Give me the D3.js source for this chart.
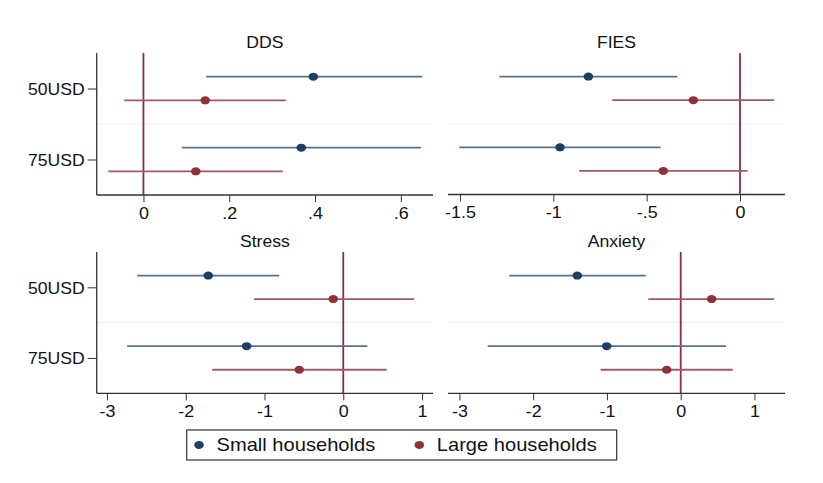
<!DOCTYPE html>
<html><head><meta charset="utf-8">
<script src="https://cdn.jsdelivr.net/npm/d3@7"></script>
<style>body{margin:0;background:#fff;} text{font-family:"Liberation Sans",Arial,sans-serif;fill:#111;}</style>
</head><body>
<svg id="c" width="823" height="483"></svg>
<script>
const panels = ["DDS","FIES","Stress","Anxiety"];
const treatments = ["50USD","75USD"];
const groups = ["Small households","Large households"];
// [treatment][group] = [estimate, lower, upper]
const ddsValues = [[[0.396,0.146,0.650],[0.144,-0.045,0.332]],[[0.368,0.089,0.647],[0.122,-0.082,0.325]]];
const fiesValues = [[[-0.812,-1.289,-0.336],[-0.250,-0.684,0.182]],[[-0.964,-1.504,-0.425],[-0.411,-0.862,0.041]]];
const stressValues = [[[-1.714,-2.616,-0.813],[-0.127,-1.134,0.898]],[[-1.227,-2.743,0.305],[-0.559,-1.664,0.551]]];
const anxietyValues = [[[-1.402,-2.324,-0.475],[0.420,-0.439,1.265]],[[-1.003,-2.617,0.614],[-0.190,-1.085,0.705]]];
const ddsTicks = [0,0.2,0.4,0.6];
const fiesTicks = [-1.5,-1,-0.5,0];
const stressTicks = [-3,-2,-1,0,1];
const anxietyTicks = [-3,-2,-1,0,1];
const tickLabel = v => { if (v===0) return "0"; let s = String(v); return s.replace(/^(-?)0\./,"$1."); };

const values = [ddsValues,fiesValues,stressValues,anxietyValues];
const ticks = [ddsTicks,fiesTicks,stressTicks,anxietyTicks];
const domains = [[-0.109,0.675],[-1.564,0.241],[-3.13,1.139],[-3.155,1.414]];
const boxes = [
  {l:96.7,r:433,t:53,b:195},
  {l:448,r:785,t:53,b:194.5},
  {l:96.7,r:433,t:252,b:393.3},
  {l:448,r:785,t:252,b:393.3}
];
const dotCol = ["#1f3e66","#8b3339"];
const ciCol = ["#57708b","#a05a61"];
const zeroCol = "#8e2c45";
const axisCol = "#333";
const SX = 1.1;

const svg = d3.select("#c");
svg.append("rect").attr("width",823).attr("height",483).attr("fill","#fff");

function stretchedText(g, x, y, txt, size, anchor, sx){
  return g.append("text").attr("transform",`translate(${x},${y}) scale(${sx},1)`)
    .attr("text-anchor",anchor).attr("font-size",size).text(txt);
}

panels.forEach((name,i)=>{
  const b = boxes[i];
  const g = svg.append("g");
  const x = d3.scaleLinear().domain(domains[i]).range([b.l,b.r]);
  const y = d3.scaleLinear().domain([0,6]).range([b.t,b.b]);
  // separator
  g.append("line").attr("x1",b.l).attr("x2",b.r).attr("y1",y(3)).attr("y2",y(3))
    .attr("stroke","#efefef").attr("stroke-width",1.2);
  // title
  stretchedText(g,(b.l+b.r)/2,b.t-5.5,name,16,"middle",SX);
  // zero line
  g.append("line").attr("x1",x(0)).attr("x2",x(0)).attr("y1",b.t).attr("y2",b.b)
    .attr("stroke",zeroCol).attr("stroke-width",1.8);
  // x axis
  const ax = g.append("g").attr("transform",`translate(0,${b.b})`)
    .call(d3.axisBottom(x).tickValues(ticks[i]).tickSize(7).tickSizeOuter(0).tickFormat(tickLabel));
  ax.select(".domain").attr("stroke",axisCol).attr("stroke-width",1.3).attr("d",`M${b.l},0H${b.r}`);
  ax.selectAll(".tick line").attr("stroke",axisCol).attr("stroke-width",1);
  ax.selectAll(".tick text").each(function(d){
    const t = d3.select(this);
    t.attr("y",null).attr("dy",null).attr("font-size",16).attr("fill","#111")
     .attr("transform",`translate(0,23.5) scale(1.12,1)`);
  });
  // y axis (left panels)
  if (i%2===0){
    const ya = d3.scaleOrdinal().domain(treatments).range([y(1.5),y(4.5)]);
    const ay = g.append("g").attr("transform",`translate(${b.l},0)`)
      .call(d3.axisLeft(ya).tickSize(9).tickSizeOuter(0));
    ay.select(".domain").attr("stroke",axisCol).attr("stroke-width",1.3).attr("d",`M0,${b.t}V${b.b}`);
    ay.selectAll(".tick line").attr("stroke",axisCol).attr("stroke-width",1);
    ay.selectAll(".tick text").attr("x",null).attr("dy",null).attr("font-size",16).attr("fill","#111")
      .attr("transform",`translate(-12,5.7) scale(1.1,1)`);
  }
  // CIs & points
  values[i].forEach((tr,ti)=>{
    tr.forEach((v,gi)=>{
      const yy = y(ti*3 + 1 + gi);
      g.append("line").attr("x1",x(v[1])).attr("x2",x(v[2])).attr("y1",yy).attr("y2",yy)
        .attr("stroke",ciCol[gi]).attr("stroke-width",1.8);
      g.append("ellipse").attr("cx",x(v[0])).attr("cy",yy).attr("rx",4.8).attr("ry",4)
        .attr("fill",dotCol[gi]);
    });
  });
});

// legend
const lg = svg.append("g");
lg.append("rect").attr("x",186.7).attr("y",430).attr("width",430).attr("height",30)
  .attr("fill","#fff").attr("stroke",axisCol).attr("stroke-width",1.2);
const lx = [199,419.3];
groups.forEach((gname,gi)=>{
  lg.append("ellipse").attr("cx",lx[gi]).attr("cy",445).attr("rx",4.8).attr("ry",4).attr("fill",dotCol[gi]);
  stretchedText(lg,lx[gi]+17.5,451.3,gname,17.5,"start",1.15);
});
</script>
</body></html>
